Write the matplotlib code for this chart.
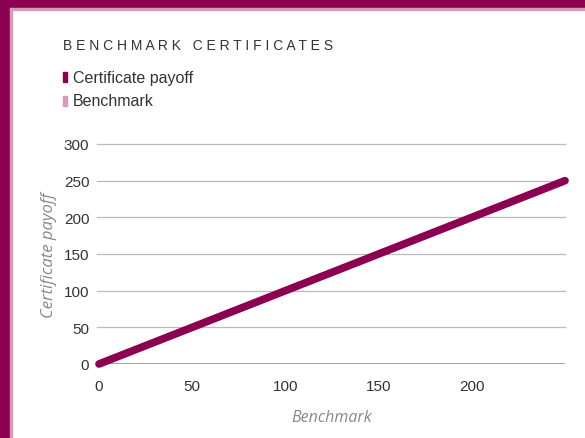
import matplotlib
matplotlib.use("Agg")
import matplotlib.pyplot as plt
from matplotlib.patches import Rectangle

benchmark = [0, 250]
certificate_payoff = [0, 250]
x_ticks = [0, 50, 100, 150, 200]
y_ticks = [0, 50, 100, 150, 200, 250, 300]

PURPLE = "#8B0051"
PINK = "#D89AB8"
TEXT = "#333333"
GREY = "#888888"
SANS = "Liberation Sans"

W, H = 585, 439
fig = plt.figure(figsize=(W / 100, H / 100), dpi=100)

# border
fig.patches.append(Rectangle((0, 0), 10 / W, 1, transform=fig.transFigure, color=PURPLE, zorder=0))
fig.patches.append(Rectangle((0, 1 - 9 / H), 1, 9 / H, transform=fig.transFigure, color=PURPLE, zorder=0))
fig.patches.append(Rectangle((10 / W, 0), 2 / W, 1 - 9 / H, transform=fig.transFigure, color=PINK, zorder=0))
fig.patches.append(Rectangle((10 / W, 1 - 11 / H), 1 - 10 / W, 2 / H, transform=fig.transFigure, color=PINK, zorder=0))

# axes: x 0 at px 99, 250 at ~565; y 0 at 365, 300 at 145
left, right = 99, 565
top, bottom = 145, 365
ax = fig.add_axes([left / W, 1 - bottom / H, (right - left) / W, (bottom - top) / H])
ax.set_xlim(0, 250)
ax.set_ylim(0, 300)
ax.set_xticks(x_ticks)
ax.set_yticks(y_ticks)
for s in ax.spines.values():
    s.set_visible(False)
ax.tick_params(length=0, labelsize=11, labelcolor=TEXT)
ax.tick_params(axis="x", pad=11)
ax.tick_params(axis="y", pad=7)
for lab in ax.get_xticklabels() + ax.get_yticklabels():
    lab.set_family(SANS)
ax.set_axisbelow(True)
for yv in y_ticks[1:]:
    ax.axhline(yv, xmin=-0.005, color="#BBBBBB", lw=0.9, zorder=1, clip_on=False)
ax.axhline(0, color="#999999", lw=2, zorder=1)

ax.plot(benchmark, benchmark, color=PINK, lw=5, solid_capstyle="round", zorder=2)
ax.plot(benchmark, certificate_payoff, color=PURPLE, lw=5.5, solid_capstyle="round", zorder=3, clip_on=False)

ax.set_xlabel("Benchmark", fontsize=11.5, style="italic", color=GREY, labelpad=11, family="Open Sans")
ax.set_ylabel("Certificate payoff", fontsize=12, style="italic", color=GREY, labelpad=5, family="Open Sans")

# title and legend
fig.text(63 / W, 1 - 46 / H, "B E N C H M A R K   C E R T I F I C A T E S", fontsize=10, color=TEXT,
         va="center", ha="left", family=SANS)
fig.patches.append(Rectangle((63 / W, 1 - 83 / H), 4 / W, 10 / H, transform=fig.transFigure, color=PURPLE))
fig.patches.append(Rectangle((63 / W, 1 - 107 / H), 4 / W, 10 / H, transform=fig.transFigure, color=PINK))
fig.text(73 / W, 1 - 78 / H, "Certificate payoff", fontsize=11.5, color=TEXT, va="center", ha="left", family=SANS)
fig.text(73 / W, 1 - 102 / H, "Benchmark", fontsize=11.5, color=TEXT, va="center", ha="left", family=SANS)

fig.savefig("out.png", dpi=100)
